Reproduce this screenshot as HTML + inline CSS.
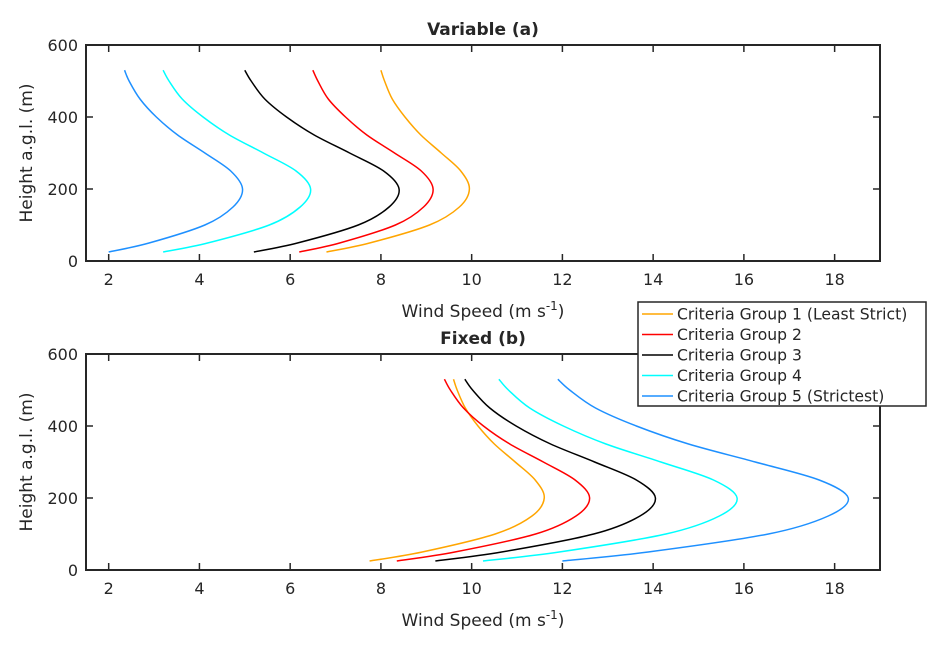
<!DOCTYPE html>
<html><head><meta charset="utf-8"><style>
body{margin:0;background:#fff}
svg text{font-family:"DejaVu Sans","Liberation Sans",sans-serif;fill:#262626}
</style></head><body>
<svg id="chart" width="947" height="650" xmlns="http://www.w3.org/2000/svg"></svg>
<script>
const heights=[25,50,100,150,200,250,300,350,400,450,500,530];
const seriesNames=["Criteria Group 1 (Least Strict)","Criteria Group 2","Criteria Group 3","Criteria Group 4","Criteria Group 5 (Strictest)"];
const seriesColors=["#ffa500","#ff0000","#000000","#00ffff","#1e90ff"];
const varG1=[6.8,7.75,9.07,9.73,9.95,9.76,9.33,8.88,8.53,8.25,8.08,8.0];
const varG2=[6.2,7.09,8.32,8.94,9.15,8.89,8.3,7.69,7.22,6.84,6.61,6.5];
const varG3=[5.2,6.16,7.5,8.18,8.4,8.06,7.31,6.53,5.92,5.44,5.14,5.0];
const varG4=[3.2,4.18,5.54,6.22,6.45,6.13,5.41,4.66,4.08,3.62,3.33,3.2];
const varG5=[2.0,2.89,4.12,4.74,4.95,4.69,4.12,3.52,3.05,2.69,2.45,2.35];
const fixG1=[7.75,8.91,10.52,11.33,11.6,11.4,10.96,10.5,10.14,9.86,9.68,9.6];
const fixG2=[8.35,9.63,11.41,12.3,12.6,12.28,11.58,10.84,10.26,9.82,9.53,9.4];
const fixG3=[9.2,10.66,12.69,13.71,14.05,13.63,12.71,11.74,10.98,10.4,10.02,9.85];
const fixG4=[10.25,11.93,14.28,15.46,15.85,15.33,14.17,12.96,12.02,11.28,10.81,10.6];
const fixG5=[12.0,13.89,16.54,17.86,18.3,17.66,16.25,14.78,13.63,12.73,12.16,11.9];
const xTicks=[2,4,6,8,10,12,14,16,18];
const yTicks=[0,200,400,600];
const NS="http://www.w3.org/2000/svg";
const svg=document.getElementById("chart");
function el(t,a,p){const e=document.createElementNS(NS,t);for(const k in a)e.setAttribute(k,a[k]);(p||svg).appendChild(e);return e;}
const X0=86,X1=880,xmin=1.5,xmax=19;
function panel(top,title,data,key){
  const Y0=top,Y1=top+216;
  const xs=v=>X0+(v-xmin)/(xmax-xmin)*(X1-X0);
  const ys=v=>Y1-v/600*(Y1-Y0);
  const g=el("g",{});
  
  
  el("rect",{x:X0,y:Y0,width:X1-X0,height:Y1-Y0,fill:"#fff",stroke:"#262626","stroke-width":2},g);
  xTicks.forEach(t=>{const x=xs(t);
    el("line",{x1:x,x2:x,y1:Y1,y2:Y1-7,stroke:"#262626","stroke-width":1.5},g);
    el("line",{x1:x,x2:x,y1:Y0,y2:Y0+7,stroke:"#262626","stroke-width":1.5},g);
    const tx=el("text",{x:x,y:Y1+24,"text-anchor":"middle","font-size":16},g);tx.textContent=t;
    });
  yTicks.forEach(t=>{const y=ys(t);
    el("line",{x1:X0,x2:X0+7,y1:y,y2:y,stroke:"#262626","stroke-width":1.5},g);
    el("line",{x1:X1,x2:X1-7,y1:y,y2:y,stroke:"#262626","stroke-width":1.5},g);
    const tx=el("text",{x:X0-8,y:y+6,"text-anchor":"end","font-size":16},g);tx.textContent=t;
    });
  const tt=el("text",{x:483,y:Y0-10,"text-anchor":"middle","font-size":17,"font-weight":"bold",fill:"#000"},g);tt.textContent=title;
  
  const xl=el("text",{x:483,y:Y1+56,"text-anchor":"middle","font-size":17},g);
  xl.innerHTML='Wind Speed (m s<tspan dy="-7" font-size="12">-1</tspan><tspan dy="7">)</tspan>';
  
  const yl=el("text",{transform:`translate(32,${(Y0+Y1)/2}) rotate(-90)`,"text-anchor":"middle","font-size":17},g);yl.textContent="Height a.g.l. (m)";
  
  data.forEach((s,i)=>{
    const pts=s.map((v,j)=>[xs(v),ys(heights[j])]);
    let d="M"+pts[0][0]+","+pts[0][1];
    for(let j=0;j<pts.length-1;j++){
      const p0=pts[Math.max(0,j-1)],p1=pts[j],p2=pts[j+1],p3=pts[Math.min(pts.length-1,j+2)];
      d+=` C${p1[0]+(p2[0]-p0[0])/6},${p1[1]+(p2[1]-p0[1])/6} ${p2[0]-(p3[0]-p1[0])/6},${p2[1]-(p3[1]-p1[1])/6} ${p2[0]},${p2[1]}`;
    }
    const p=el("path",{d:d,fill:"none",stroke:seriesColors[i],"stroke-width":1.5},g);
    
    
  });
}
panel(45,"Variable (a)",[varG1,varG2,varG3,varG4,varG5],"variable");
panel(354,"Fixed (b)",[fixG1,fixG2,fixG3,fixG4,fixG5],"fixed");
const lg=el("g",{});


el("rect",{x:638,y:302,width:288,height:104,fill:"#fff",stroke:"#262626","stroke-width":1.5},lg);
seriesNames.forEach((n,i)=>{const y=314+i*20.5;
  const ln=el("line",{x1:642,x2:673,y1:y,y2:y,stroke:seriesColors[i],"stroke-width":1.5},lg);
  
  const t=el("text",{x:677,y:y+5.5,"font-size":15.6,fill:"#000"},lg);t.textContent=n;
  });
</script>
</body></html>
